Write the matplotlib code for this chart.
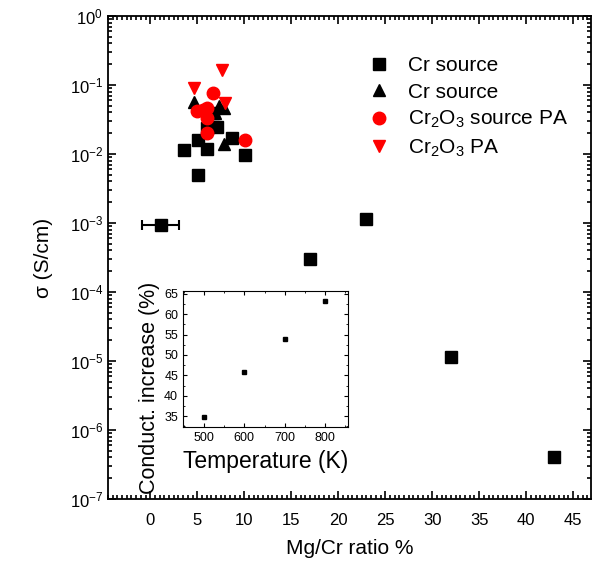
import matplotlib
matplotlib.use('Agg')
from matplotlib import pyplot as plt
from matplotlib.ticker import LogLocator, MultipleLocator, NullFormatter

plt.rcParams['font.family'] = ['Liberation Sans', 'DejaVu Sans']
plt.rcParams['mathtext.fontset'] = 'custom'
plt.rcParams['mathtext.rm'] = 'Liberation Sans'
plt.rcParams['mathtext.it'] = 'Liberation Sans:italic'
plt.rcParams['mathtext.default'] = 'regular'

# Cr source (squares)
sq_x = [1.1, 17.0, 23.0, 32.0, 43.0, 3.55, 5.07, 6.03, 5.07, 7.1, 6.03, 8.7, 10.1, 6.7]
sq_y = [9.3e-4, 3.0e-4, 1.13e-3, 1.15e-5, 4.0e-7, 1.15e-2, 1.6e-2, 1.2e-2, 5.0e-3,
        2.5e-2, 2.35e-2, 1.7e-2, 9.7e-3, 3.9e-2]
err_x = [1.1]
err_y = [9.3e-4]
err_dx = [2.0]

# Cr source (triangles)
tri_x = [4.6, 7.8, 7.27, 7.8, 6.9]
tri_y = [5.7e-2, 1.4e-2, 4.9e-2, 4.6e-2, 3.9e-2]

# Cr2O3 source PA (circles)
circ_x = [6.7, 5.0, 6.0, 6.0, 6.0, 10.1, 5.6]
circ_y = [7.6e-2, 4.2e-2, 4.6e-2, 3.3e-2, 2.0e-2, 1.6e-2, 4.4e-2]

# Cr2O3 PA (down triangles)
dn_x = [7.6, 4.6, 8.0]
dn_y = [0.165, 0.09, 5.4e-2]

# inset
temp = [500, 600, 700, 800]
cond_inc = [34.8, 45.8, 53.9, 63.3]

fig = plt.figure(figsize=(5.94, 5.65), dpi=100)
ax = fig.add_axes([0.1818, 0.1168, 0.8132, 0.8549])

ax.errorbar(err_x, err_y, xerr=err_dx, fmt='none', ecolor='black', elinewidth=1.5,
            capsize=3.5, capthick=1.5)
ax.plot(sq_x, sq_y, 's', color='black', markersize=8, label='Cr source')
ax.plot(tri_x, tri_y, '^', color='black', markersize=8.5, label='Cr source')
ax.plot(circ_x, circ_y, 'o', color='red', markersize=9.0,
        label='Cr$_2$O$_3$ source PA')
ax.plot(dn_x, dn_y, 'v', color='red', markersize=8.5, label='Cr$_2$O$_3$ PA')

ax.set_yscale('log')
ax.set_xlim(-4.5, 46.9)
ax.set_ylim(1e-7, 1)
ax.xaxis.set_major_locator(MultipleLocator(5))
ax.xaxis.set_minor_locator(MultipleLocator(0.5))
ax.yaxis.set_major_locator(LogLocator(base=10, numticks=10))
ax.yaxis.set_minor_locator(LogLocator(base=10, subs=range(2, 10), numticks=20))
ax.yaxis.set_minor_formatter(NullFormatter())
ax.tick_params(which='both', direction='in', top=True, right=True, labelsize=12,
               width=1.2)
ax.tick_params(which='major', length=6)
ax.tick_params(which='minor', length=3)
ax.tick_params(axis='x', pad=10)
for s in ax.spines.values():
    s.set_linewidth(1.3)
ax.set_xlabel('Mg/Cr ratio %', fontsize=15, labelpad=8)
ax.set_ylabel('σ (S/cm)', fontsize=15, labelpad=12)

ax.legend(loc='upper left', bbox_to_anchor=(0.5, 0.955), frameon=False, fontsize=15,
          handletextpad=0.9, labelspacing=0.35, handlelength=1.0)

ins = fig.add_axes([0.308, 0.244, 0.278, 0.241])
ins.plot(temp, cond_inc, 's', color='black', markersize=3)
ins.set_xlim(448, 857)
ins.set_ylim(32.3, 65.7)
ins.xaxis.set_major_locator(MultipleLocator(100))
ins.xaxis.set_minor_locator(MultipleLocator(50))
ins.yaxis.set_major_locator(MultipleLocator(5))
ins.yaxis.set_minor_locator(MultipleLocator(2.5))
ins.tick_params(which='both', direction='in', top=True, right=True, labelsize=9)
ins.tick_params(which='major', length=3)
ins.tick_params(which='minor', length=1.5)
ins.set_xlabel('Temperature (K)', fontsize=16.5, labelpad=4)
ins.set_ylabel('Conduct. increase (%)', fontsize=15.5)
ins.yaxis.set_label_coords(-0.14, 0.29)

fig.savefig('out.png', dpi=100)
